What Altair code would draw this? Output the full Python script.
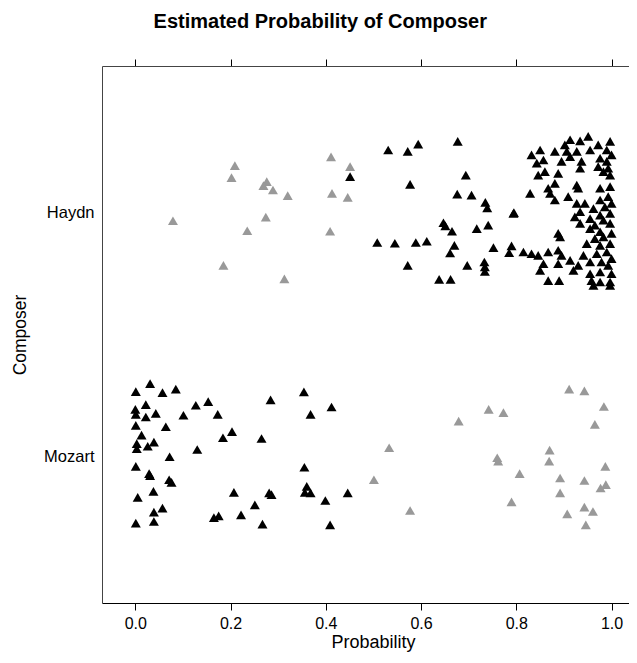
import altair as alt
import pandas as pd

# Estimated probability (of Haydn) and vertical jitter, per composer
haydn_p = [0.209, 0.202, 0.276, 0.269, 0.289, 0.320, 0.411, 0.451, 0.451, 0.413, 0.446,
           0.079, 0.274, 0.235, 0.409, 0.185, 0.313,
           0.531, 0.572, 0.594, 0.677, 0.694, 0.577, 0.676, 0.706, 0.735, 0.739,
           0.795, 0.647, 0.651, 0.665, 0.717, 0.741, 0.508, 0.545, 0.589, 0.612,
           0.670, 0.661, 0.752, 0.790, 0.785, 0.572, 0.697, 0.733, 0.734, 0.734,
           0.638, 0.662,
           0.913, 0.934, 0.951, 0.972, 0.997, 0.902, 0.850, 0.881, 0.832, 0.906,
           0.927, 0.955, 0.990, 0.857, 0.843, 0.895, 0.913, 0.937, 0.976, 0.990,
           1.000, 0.934, 0.860, 0.846, 0.888, 0.972, 0.983, 0.997, 0.993, 0.881,
           0.927, 0.930, 0.976, 0.997, 0.829, 0.867, 0.871, 0.881, 0.909, 0.927,
           0.944, 0.976, 0.993, 1.000, 0.794, 0.962, 0.986, 0.934, 0.976, 0.997,
           0.923, 0.955, 0.983, 0.934, 0.965, 0.997, 0.955, 0.976, 0.888, 0.892,
           0.983, 1.000, 0.965, 0.948, 0.976, 0.997, 0.815, 0.832, 0.846, 0.867,
           0.888, 0.895, 0.913, 0.941, 0.969, 0.990, 1.000, 0.857, 0.888, 0.930,
           0.955, 0.979, 0.993, 0.850, 0.920, 0.955, 0.976, 1.000, 0.867, 0.890,
           0.958, 0.976, 0.997, 0.962, 0.997]
haydn_j = [0.192, 0.143, 0.126, 0.110, 0.092, 0.069, 0.228, 0.188, 0.147, 0.078, 0.062,
           -0.034, -0.019, -0.075, -0.077, -0.217, -0.272,
           0.256, 0.250, 0.280, 0.291, 0.153, 0.115, 0.075, 0.071, 0.041, 0.019,
           -0.001, -0.042, -0.055, -0.077, -0.066, -0.052, -0.123, -0.126, -0.123, -0.118,
           -0.135, -0.166, -0.144, -0.137, -0.165, -0.217, -0.217, -0.203, -0.223, -0.242,
           -0.274, -0.274,
           0.298, 0.293, 0.312, 0.277, 0.291, 0.277, 0.256, 0.250, 0.236, 0.250,
           0.250, 0.256, 0.256, 0.215, 0.202, 0.209, 0.229, 0.209, 0.222, 0.209,
           0.236, 0.181, 0.167, 0.153, 0.160, 0.188, 0.167, 0.153, 0.181, 0.119,
           0.112, 0.099, 0.099, 0.106, 0.078, 0.099, 0.078, 0.051, 0.065, 0.037,
           0.037, 0.051, 0.065, 0.037, -0.004, 0.016, 0.023, 0.003, -0.011, -0.004,
           -0.018, -0.025, -0.032, -0.045, -0.052, -0.045, -0.066, -0.079, -0.086, -0.100,
           -0.100, -0.086, -0.107, -0.128, -0.135, -0.128, -0.162, -0.169, -0.176, -0.162,
           -0.155, -0.176, -0.196, -0.176, -0.169, -0.162, -0.189, -0.210, -0.210, -0.217,
           -0.203, -0.203, -0.217, -0.237, -0.237, -0.251, -0.244, -0.251, -0.279, -0.279,
           -0.279, -0.285, -0.285, -0.299, -0.299]
# predicted composer for each Haydn piece (one piece near 0.45 is drawn black)
haydn_pred = ["Haydn" if p >= 0.5 else "Mozart" for p in haydn_p]
haydn_pred[8] = "Haydn"

mozart_p = [0.001, 0.031, 0.057, 0.085, 0.284, 0.354, 0.000, 0.022, 0.001, 0.022,
            0.043, 0.101, 0.127, 0.153, 0.173, 0.368, 0.412, 0.001, 0.064, 0.013,
            0.003, 0.003, 0.026, 0.039, 0.184, 0.203, 0.265, 0.130, 0.072, 0.001,
            0.029, 0.031, 0.071, 0.076, 0.355, 0.038, 0.005, 0.207, 0.281, 0.286,
            0.360, 0.356, 0.368, 0.399, 0.446, 0.057, 0.039, 0.251, 0.222, 0.165,
            0.175, 0.001, 0.039, 0.267, 0.409,
            0.911, 0.943, 0.984, 0.965, 0.742, 0.773, 0.679, 0.533, 0.501, 0.577,
            0.760, 0.762, 0.807, 0.790, 0.870, 0.869, 0.892, 0.892, 0.907, 0.943,
            0.943, 0.961, 0.946, 0.987, 0.977, 0.988]
mozart_j = [0.266, 0.299, 0.262, 0.276, 0.232, 0.265, 0.193, 0.213, 0.173, 0.162,
            0.177, 0.169, 0.210, 0.225, 0.173, 0.173, 0.203, 0.128, 0.122, 0.088,
            0.053, 0.032, 0.042, 0.059, 0.077, 0.102, 0.074, 0.029, -0.001, -0.040,
            -0.070, -0.078, -0.095, -0.106, -0.044, -0.143, -0.167, -0.147, -0.149, -0.156,
            -0.122, -0.147, -0.149, -0.180, -0.149, -0.211, -0.228, -0.198, -0.239, -0.250,
            -0.243, -0.273, -0.266, -0.277, -0.280,
            0.276, 0.269, 0.205, 0.132, 0.193, 0.180, 0.145, 0.036, -0.095, -0.221,
            -0.005, -0.019, -0.070, -0.186, 0.026, -0.019, -0.088, -0.149, -0.235, -0.098,
            -0.207, -0.225, -0.280, -0.040, -0.129, -0.115]
mozart_pred = ["Haydn" if p >= 0.5 else "Mozart" for p in mozart_p]

x_ticks = [0.0, 0.2, 0.4, 0.6, 0.8, 1.0]

df = pd.concat([
    pd.DataFrame({"Composer": "Haydn", "Probability": haydn_p, "jitter": haydn_j,
                  "Predicted": haydn_pred}),
    pd.DataFrame({"Composer": "Mozart", "Probability": mozart_p, "jitter": mozart_j,
                  "Predicted": mozart_pred}),
], ignore_index=True)

FONT = "Liberation Sans"
xscale = alt.Scale(domain=[-0.07, 1.0367], nice=False, zero=False)
yscale = alt.Scale(domain=[0.4, 2.6], nice=False, zero=False)

base = alt.Chart(df).transform_calculate(
    ypos="(datum.Composer == 'Haydn' ? 2 : 1) + datum.jitter",
    correct="datum.Composer == datum.Predicted ? 'right' : 'wrong'",
)

points = base.mark_point(shape="triangle-up", filled=True, size=100, opacity=1).encode(
    x=alt.X("Probability:Q", scale=xscale,
            axis=alt.Axis(orient="bottom", values=x_ticks, format=".1f", tickSize=7,
                          labelPadding=5, title="Probability",
                          titleX=271, titleY=44, titleBaseline="alphabetic",
                          titleAlign="center", titleAnchor="start",
                          grid=False, domainColor="#000", tickColor="#000",
                          labelFontSize=16, titleFontSize=18, labelColor="#000",
                          titleColor="#000", titleFontWeight="normal", labelFont=FONT,
                          titleFont=FONT)),
    y=alt.Y("ypos:Q", scale=yscale,
            axis=alt.Axis(values=[1, 2],
                          labelExpr="datum.value == 2 ? 'Haydn' : 'Mozart'",
                          tickSize=0, labelPadding=8, grid=False, domainColor="#444",
                          labelFontSize=16.5, titleFontSize=17.5, labelColor="#000",
                          titleColor="#000", titleFontWeight="normal", title="Composer",
                          titlePadding=14, labelFont=FONT, titleFont=FONT)),
    color=alt.Color("correct:N", scale=alt.Scale(domain=["right", "wrong"],
                                                   range=["#000000", "#999999"]),
                    legend=None),
)

top_axis = base.mark_tick(opacity=0).encode(
    x=alt.X("Probability:Q", scale=xscale,
            axis=alt.Axis(orient="top", values=x_ticks, labels=False, tickSize=7,
                          title="", grid=False, domainColor="#444", tickColor="#000")),
)

chart = alt.layer(points, top_axis).properties(
    width=527, height=537,
    autosize=alt.AutoSizeParams(type="none"),
    padding={"left": 94, "top": 58, "right": 0, "bottom": 50},
    title=alt.TitleParams("Estimated Probability of Composer", font=FONT, fontSize=20,
                          fontWeight="bold", color="#000", anchor="middle",
                          frame="bounds", offset=27),
).configure_view(strokeWidth=0, strokeOpacity=0)

chart.save("out.html", embed_options={"renderer": "svg", "actions": False})
